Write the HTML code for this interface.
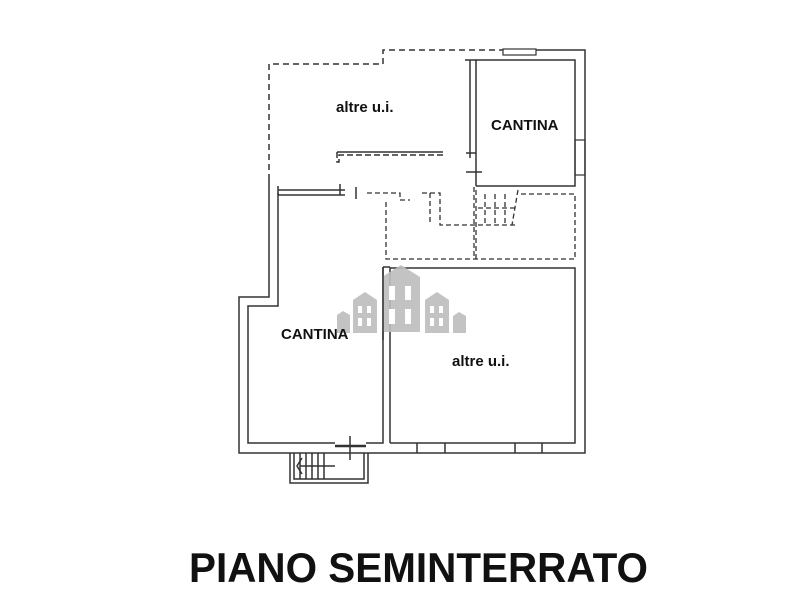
<!DOCTYPE html>
<html><head><meta charset="utf-8"><style>html,body{margin:0;padding:0;background:#fff}svg{display:block}</style></head>
<body>
<svg width="800" height="600" viewBox="0 0 800 600" xmlns="http://www.w3.org/2000/svg">
<g fill="none" stroke="#333" stroke-width="1.5">
<!-- outer solid -->
<polyline points="536,50 585,50 585,453 239,453 239,297 269,297 269,180"/>
<!-- outer dashed -->
<polyline points="269,180 269,64 383,64 383,50 503,50" stroke-dasharray="6,4"/>
<rect x="503" y="49" width="33" height="6" stroke-width="1.2"/>
<!-- top cantina -->
<polyline points="476,186 476,60 575,60 575,186 476,186"/>
<line x1="470" y1="60" x2="470" y2="158"/>
<line x1="465" y1="60" x2="476" y2="60"/>
<line x1="466" y1="153" x2="476" y2="153"/>
<line x1="466" y1="172" x2="482" y2="172"/>
<rect x="575" y="140" width="10" height="35" stroke-width="1.2"/>
<!-- partition dashed -->
<polyline points="337,152 337,162 339,162 339,155 443,155" stroke-dasharray="6,3"/>
<line x1="337" y1="152" x2="443" y2="152"/>
<!-- left cantina -->
<polyline points="278,193 278,306 248,306 248,443 335,443"/>
<polyline points="366,443 383,443 383,267"/>
<line x1="278" y1="190" x2="345" y2="190"/>
<line x1="278" y1="195" x2="345" y2="195"/>
<line x1="340" y1="184" x2="340" y2="195"/>
<line x1="356" y1="187" x2="356" y2="199"/>
<line x1="278" y1="186" x2="278" y2="195"/>
<line x1="335" y1="446" x2="366" y2="446" stroke-width="2.5"/>
<line x1="350" y1="436" x2="350" y2="460"/>
<!-- right room -->
<polyline points="390,443 390,268 575,268 575,443 390,443"/>
<line x1="383" y1="267" x2="390" y2="267"/>
<line x1="417" y1="443" x2="417" y2="453"/>
<line x1="445" y1="443" x2="445" y2="453"/>
<line x1="515" y1="443" x2="515" y2="453"/>
<line x1="542" y1="443" x2="542" y2="453"/>
<!-- dashed box -->
<g stroke-dasharray="5,3" stroke-width="1.3">
<polyline points="386,202 386,259 575,259 575,194 520,194"/>
<polyline points="367,193 400,193 400,200 410,200"/>
<polyline points="422,193 440,193 440,225 518,225"/>
<line x1="430" y1="193" x2="430" y2="225"/>
<line x1="474" y1="187" x2="474" y2="259"/>
<line x1="476" y1="190" x2="476" y2="259"/>
<line x1="485" y1="194" x2="485" y2="225"/>
<line x1="495" y1="194" x2="495" y2="225"/>
<line x1="505" y1="194" x2="505" y2="225"/>
<line x1="478" y1="208" x2="515" y2="208"/>
<polyline points="518,190 512,225"/>
</g>
<!-- stairs bottom -->
<polyline points="290,453 290,483 368,483 368,453"/>
<polyline points="294,453 294,479 364,479 364,453"/>
<line x1="300" y1="453" x2="300" y2="479"/>
<line x1="306" y1="453" x2="306" y2="479"/>
<line x1="312" y1="453" x2="312" y2="479"/>
<line x1="318" y1="453" x2="318" y2="479"/>
<line x1="324" y1="453" x2="324" y2="479"/>
<line x1="300" y1="466" x2="335" y2="466"/>
<polyline points="302,458 297,466 302,474"/>
</g>
<!-- watermark -->
<g fill="#bdbdbd" opacity="0.9">
<polygon points="382,277 401,265 420,277 420,332 382,332"/>
<polygon points="353,300 365,292 377,300 377,333 353,333"/>
<polygon points="425,300 437,292 449,300 449,333 425,333"/>
<polygon points="337,315 343,311 350,315 350,333 337,333"/>
<polygon points="453,316 459,312 466,316 466,333 453,333"/>
</g>
<g fill="#fff">
<rect x="389" y="286" width="6" height="14"/><rect x="405" y="286" width="6" height="14"/>
<rect x="389" y="309" width="6" height="15"/><rect x="405" y="309" width="6" height="15"/>
<rect x="358" y="306" width="4" height="7"/><rect x="367" y="306" width="4" height="7"/>
<rect x="358" y="318" width="4" height="8"/><rect x="367" y="318" width="4" height="8"/>
<rect x="430" y="306" width="4" height="7"/><rect x="439" y="306" width="4" height="7"/>
<rect x="430" y="318" width="4" height="8"/><rect x="439" y="318" width="4" height="8"/>
</g>
<line x1="383" y1="267" x2="383" y2="340" stroke="#333" stroke-width="1.5"/>
<g font-family="Liberation Sans, sans-serif" font-weight="bold" fill="#111">
<text x="336" y="112" font-size="15">altre u.i.</text>
<text x="491" y="130" font-size="15">CANTINA</text>
<text x="281" y="339" font-size="15">CANTINA</text>
<text x="452" y="366" font-size="15">altre u.i.</text>
<text x="189" y="582" font-size="42" textLength="459" lengthAdjust="spacingAndGlyphs">PIANO SEMINTERRATO</text>
</g>
</svg>
</body></html>
